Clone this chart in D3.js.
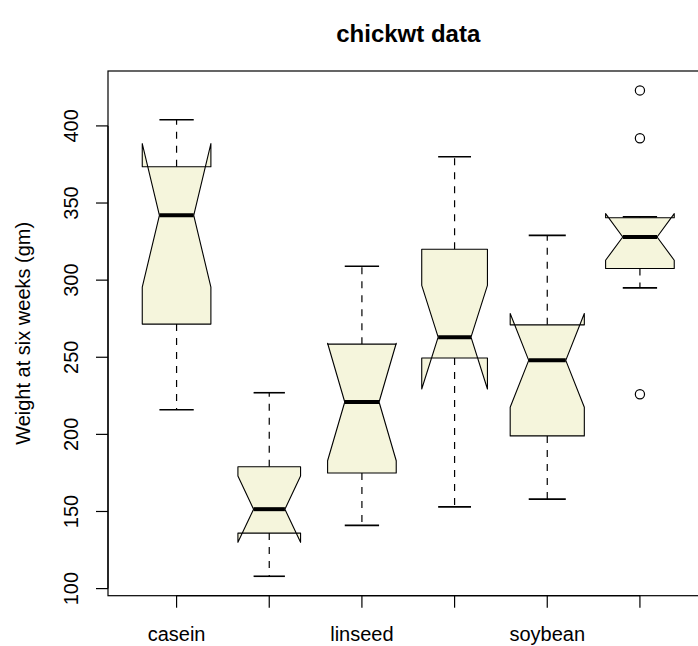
<!DOCTYPE html>
<html>
<head>
<meta charset="utf-8">
<script src="https://cdn.jsdelivr.net/npm/d3@7"></script>
<style>
  html, body { margin: 0; padding: 0; background: #fff; }
  svg { display: block; }
  text { font-family: "Liberation Sans", Arial, Helvetica, sans-serif; fill: #000; }
</style>
</head>
<body>
<svg id="chart" width="698" height="646"></svg>
<script>
// ---- data ----
const categories   = ["casein", "horsebean", "linseed", "meatmeal", "soybean", "sunflower"];
const counts       = [12, 10, 12, 11, 14, 12];
const whiskerLow   = [216, 108, 141, 153, 158, 295];
const hingeLow     = [271.5, 136, 175, 249.5, 199, 307.5];
const medians      = [342, 151.5, 221, 263, 248, 328];
const hingeHigh    = [373.5, 179, 258.5, 320, 271, 340.5];
const whiskerHigh  = [404, 227, 309, 380, 329, 341];
const notchLow     = [295.5, 130.0, 182.9, 229.4, 217.6, 312.9];
const notchHigh    = [388.5, 173.0, 259.1, 296.6, 278.4, 343.1];
const outliers     = [[], [], [], [], [], [226, 392, 423]];
const yTicks       = [100, 150, 200, 250, 300, 350, 400];
const title        = "chickwt data";
const yLabel       = "Weight at six weeks (gm)";

// ---- layout ----
const svg = d3.select("#chart");
const plot = { left: 108, right: 708.5, top: 71, bottom: 595.7 };
const fontSize = 20;

const x = d3.scaleLinear().domain([0.26, 6.74]).range([plot.left, plot.right]);
const y = d3.scaleLinear().domain([95.4, 435.6]).range([plot.bottom, plot.top]);

const maxN = d3.max(counts);
const halfW = i => (x(1.4) - x(1)) * Math.sqrt(counts[i] / maxN);

const fill = "#F5F5DC";
const g = svg.append("g");

categories.forEach((c, i) => {
  const cx = x(i + 1);
  const w = halfW(i);
  // whiskers (dashed)
  g.append("line").attr("x1", cx).attr("x2", cx)
    .attr("y1", y(hingeHigh[i])).attr("y2", y(whiskerHigh[i]))
    .attr("stroke", "#000").attr("stroke-width", 1.2).attr("stroke-dasharray", "7,7");
  g.append("line").attr("x1", cx).attr("x2", cx)
    .attr("y1", y(hingeLow[i])).attr("y2", y(whiskerLow[i]))
    .attr("stroke", "#000").attr("stroke-width", 1.2).attr("stroke-dasharray", "7,7");
  // staples
  [whiskerLow[i], whiskerHigh[i]].forEach(v => {
    g.append("line").attr("x1", cx - 0.5 * w).attr("x2", cx + 0.5 * w)
      .attr("y1", y(v)).attr("y2", y(v))
      .attr("stroke", "#000").attr("stroke-width", 1.6);
  });
  // notched box
  const pts = [
    [-1, hingeLow[i]], [1, hingeLow[i]], [1, notchLow[i]], [0.5, medians[i]],
    [1, notchHigh[i]], [1, hingeHigh[i]], [-1, hingeHigh[i]], [-1, notchHigh[i]],
    [-0.5, medians[i]], [-1, notchLow[i]]
  ].map(([fx, v]) => [cx + fx * w, y(v)]);
  g.append("path").attr("d", "M" + pts.map(p => p.join(",")).join("L") + "Z")
    .attr("fill", fill).attr("stroke", "#000").attr("stroke-width", 1.1)
    .attr("stroke-linejoin", "round");
  // median
  g.append("line").attr("x1", cx - 0.5 * w).attr("x2", cx + 0.5 * w)
    .attr("y1", y(medians[i])).attr("y2", y(medians[i]))
    .attr("stroke", "#000").attr("stroke-width", 4);
  // outliers
  outliers[i].forEach(v => {
    g.append("circle").attr("cx", cx).attr("cy", y(v)).attr("r", 4.6)
      .attr("fill", "none").attr("stroke", "#000").attr("stroke-width", 1.2);
  });
});

// plot frame
svg.append("rect").attr("x", plot.left).attr("y", plot.top)
  .attr("width", plot.right - plot.left).attr("height", plot.bottom - plot.top)
  .attr("fill", "none").attr("stroke", "#000").attr("stroke-width", 1.2);

// y axis
const yAxis = svg.append("g");
yAxis.append("line").attr("x1", plot.left).attr("x2", plot.left)
  .attr("y1", y(yTicks[0])).attr("y2", y(yTicks[yTicks.length - 1]))
  .attr("stroke", "#000").attr("stroke-width", 1.2);
yTicks.forEach(t => {
  yAxis.append("line").attr("x1", plot.left).attr("x2", plot.left - 12)
    .attr("y1", y(t)).attr("y2", y(t)).attr("stroke", "#000").attr("stroke-width", 1.2);
  yAxis.append("text")
    .attr("transform", `translate(${plot.left - 30},${y(t)}) rotate(-90)`)
    .attr("text-anchor", "middle").attr("font-size", fontSize).text(t);
});

// x axis
const xAxis = svg.append("g");
xAxis.append("line").attr("x1", x(1)).attr("x2", x(categories.length))
  .attr("y1", plot.bottom).attr("y2", plot.bottom)
  .attr("stroke", "#000").attr("stroke-width", 1.2);
let lastRight = -Infinity;
categories.forEach((c, i) => {
  const cx = x(i + 1);
  xAxis.append("line").attr("x1", cx).attr("x2", cx)
    .attr("y1", plot.bottom).attr("y2", plot.bottom + 12)
    .attr("stroke", "#000").attr("stroke-width", 1.2);
  const t = xAxis.append("text").attr("x", cx).attr("y", plot.bottom + 45)
    .attr("text-anchor", "middle").attr("font-size", fontSize).text(c);
  const wdt = t.node().getComputedTextLength();
  // drop labels that would overlap (as R's axis does)
  if (cx - wdt / 2 < lastRight + 20) { t.remove(); }
  else { lastRight = cx + wdt / 2; }
});

// y label
svg.append("text")
  .attr("transform", `translate(${plot.left - 78},${(plot.top + plot.bottom) / 2}) rotate(-90)`)
  .attr("text-anchor", "middle").attr("font-size", fontSize).text(yLabel);

// title
svg.append("text").attr("x", (plot.left + plot.right) / 2).attr("y", 42)
  .attr("text-anchor", "middle").attr("font-size", 24).attr("font-weight", "bold")
  .text(title);
</script>
</body>
</html>
